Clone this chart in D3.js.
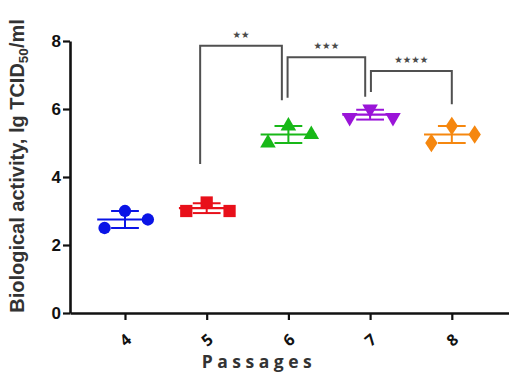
<!DOCTYPE html>
<html><head><meta charset="utf-8">
<script src="https://cdn.jsdelivr.net/npm/d3@7"></script>
<style>body{margin:0;background:#fff}svg{display:block}</style>
</head><body><svg id="c" width="509" height="372"></svg>
<script>
const passages = [4, 5, 6, 7, 8];
const values = [
  [2.5, 3.0, 2.75],
  [3.0, 3.25, 3.0],
  [5.0, 5.5, 5.25],
  [5.75, 6.0, 5.75],
  [5.0, 5.5, 5.25]
];
const jitter = [-0.25, 0, 0.28];
const colors = ["#0a14e6", "#e8101a", "#18b818", "#9a14d8", "#f5870f"];
const shapes = ["circle", "square", "triangle", "triangleDown", "diamond"];
const yTicks = [0, 2, 4, 6, 8];
const brackets = [
  {x1: 4.92, x2: 5.92, top: 7.86, l: 4.38, r: 6.26, label: "★★"},
  {x1: 5.99, x2: 6.94, top: 7.52, l: 6.33, r: 6.36, label: "★★★"},
  {x1: 7.01, x2: 8.0, top: 7.12, l: 6.5, r: 6.14, label: "★★★★"}
];

const svg = d3.select("#c");
const x = d3.scaleLinear().domain([3.327, 8.7]).range([70, 509]);
const y = d3.scaleLinear().domain([0, 8]).range([313, 41]);

const yAxis = svg.append("g").attr("transform", "translate(70,0)")
  .call(d3.axisLeft(y).tickValues(yTicks).tickSize(7).tickPadding(2).tickSizeOuter(0));
yAxis.select(".domain").attr("stroke", "#111").attr("stroke-width", 2.6);
yAxis.selectAll(".tick line").attr("stroke", "#111").attr("stroke-width", 2.2);
yAxis.selectAll(".tick text").attr("font-family", "Liberation Sans, Arial, sans-serif")
  .attr("font-weight", "bold").attr("font-size", 17).attr("fill", "#111");

const xAxis = svg.append("g").attr("transform", "translate(0,313)")
  .call(d3.axisBottom(x).tickValues(passages).tickFormat(d3.format("d")).tickSize(7).tickSizeOuter(0));
xAxis.select(".domain").attr("stroke", "#111").attr("stroke-width", 2.6);
xAxis.selectAll(".tick line").attr("stroke", "#111").attr("stroke-width", 2.2);
xAxis.selectAll(".tick text").attr("font-family", "Open Sans, sans-serif")
  .attr("font-weight", "bold").attr("font-size", 16).attr("fill", "#111")
  .attr("y", 0).attr("dy", "0.35em")
  .attr("text-anchor", "middle")
  .attr("transform", "translate(0,27) rotate(-40)");

const bg = svg.append("g");
brackets.forEach(b => {
  bg.append("path")
    .attr("d", `M${x(b.x1)},${y(b.l)}V${y(b.top)}H${x(b.x2)}V${y(b.r)}`)
    .attr("fill", "none").attr("stroke", "#505050").attr("stroke-width", 2);
  bg.append("text").attr("x", (x(b.x1) + x(b.x2)) / 2).attr("y", y(b.top) - 8)
    .attr("text-anchor", "middle").attr("font-family", "DejaVu Sans, sans-serif")
    .attr("font-size", 9.5).attr("fill", "#4a4a4a").text(b.label);
});

const symMap = {
  circle: d3.symbolCircle, square: d3.symbolSquare, triangle: d3.symbolTriangle,
  triangleDown: d3.symbolTriangle, diamond: d3.symbolDiamond
};
const sizeMap = {circle: 120, square: 150, triangle: 105, triangleDown: 105, diamond: 100};
passages.forEach((p, i) => {
  const vals = values[i];
  const m = d3.mean(vals), sd = d3.deviation(vals);
  const g = svg.append("g");
  const c = colors[i];
  g.append("line").attr("x1", x(p - 0.34)).attr("x2", x(p + 0.34))
    .attr("y1", y(m)).attr("y2", y(m)).attr("stroke", c).attr("stroke-width", 2.2);
  [m - sd, m + sd].forEach(v => {
    g.append("line").attr("x1", x(p - 0.17)).attr("x2", x(p + 0.17))
      .attr("y1", y(v)).attr("y2", y(v)).attr("stroke", c).attr("stroke-width", 2);
  });
  g.append("line").attr("x1", x(p)).attr("x2", x(p))
    .attr("y1", y(m - sd)).attr("y2", y(m + sd)).attr("stroke", c).attr("stroke-width", 2);
  vals.forEach((v, j) => {
    const sym = d3.symbol().type(symMap[shapes[i]]).size(sizeMap[shapes[i]]);
    let tr = `translate(${x(p + jitter[j])},${y(v)})`;
    if (shapes[i] === "triangleDown") tr += " rotate(180)";
    if (shapes[i] === "diamond") tr += " scale(1.15,1)";
    g.append("path").attr("d", sym()).attr("transform", tr).attr("fill", c);
  });
});

const yl = svg.append("text")
  .attr("transform", "translate(24,166) rotate(-90)")
  .attr("text-anchor", "middle")
  .attr("font-family", "Liberation Sans, Arial, sans-serif")
  .attr("font-weight", "bold").attr("font-size", 20).attr("fill", "#333");
yl.append("tspan").text("Biological activity, lg TCID");
yl.append("tspan").attr("font-size", 13.5).attr("dy", 4).text("50");
yl.append("tspan").attr("dy", -4).text("/ml");

svg.append("text").attr("x", 259).attr("y", 368).attr("text-anchor", "middle")
  .attr("font-family", "Open Sans, sans-serif").attr("font-weight", "bold")
  .attr("font-size", 17.5).attr("letter-spacing", 4.5).attr("fill", "#333").text("Passages");
</script></body></html>
